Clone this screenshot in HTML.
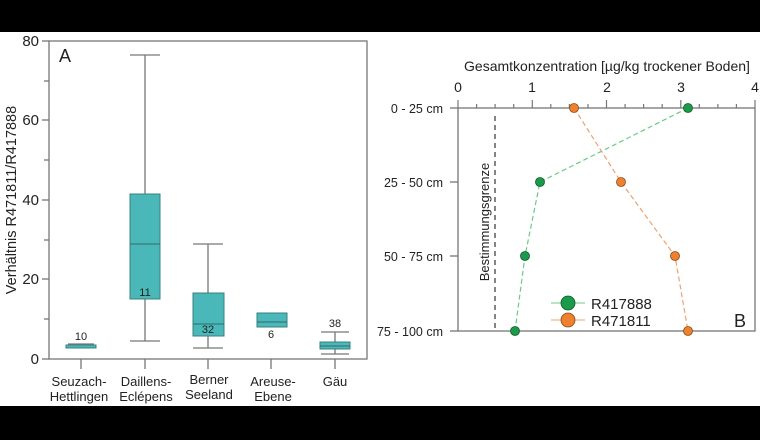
<!DOCTYPE html>
<html><head><meta charset="utf-8"><style>
html,body{margin:0;padding:0;background:#fff}
svg text{font-family:"Liberation Sans",Arial,sans-serif;fill:#222}
</style></head><body>
<svg width="760" height="440" viewBox="0 0 760 440" xmlns="http://www.w3.org/2000/svg">
<rect width="760" height="440" fill="#fff"/>
<rect x="0" y="0" width="760" height="32" fill="#000"/>
<rect x="0" y="406" width="760" height="34" fill="#000"/>
<!-- Panel A -->
<g stroke="#777" stroke-width="1.3" fill="none">
<rect x="49" y="41" width="318" height="318"/>
<line x1="42" y1="41" x2="49" y2="41"/><line x1="44" y1="81" x2="49" y2="81"/>
<line x1="42" y1="120" x2="49" y2="120"/><line x1="44" y1="160" x2="49" y2="160"/>
<line x1="42" y1="200" x2="49" y2="200"/><line x1="44" y1="240" x2="49" y2="240"/>
<line x1="42" y1="279" x2="49" y2="279"/><line x1="44" y1="319" x2="49" y2="319"/>
<line x1="42" y1="359" x2="49" y2="359"/>
<line x1="81" y1="359" x2="81" y2="369"/><line x1="145" y1="359" x2="145" y2="369"/>
<line x1="208" y1="359" x2="208" y2="369"/><line x1="271" y1="359" x2="271" y2="369"/>
<line x1="335" y1="359" x2="335" y2="369"/>
<line x1="145" y1="55" x2="145" y2="194"/><line x1="145" y1="299" x2="145" y2="341"/>
<line x1="130" y1="55" x2="160" y2="55"/><line x1="130" y1="341" x2="160" y2="341"/>
<line x1="208" y1="244" x2="208" y2="293"/><line x1="208" y1="336" x2="208" y2="348"/>
<line x1="193" y1="244" x2="223" y2="244"/><line x1="193" y1="348" x2="223" y2="348"/>
<line x1="335" y1="332" x2="335" y2="354"/>
<line x1="321" y1="332" x2="349" y2="332"/><line x1="321" y1="354" x2="349" y2="354"/>
<line x1="68" y1="344" x2="94" y2="344"/>
</g>
<g fill="#4ab8b8" stroke="#3a7f80" stroke-width="1">
<rect x="66" y="345" width="30" height="3"/>
<rect x="130" y="194" width="30" height="105"/>
<rect x="193" y="293" width="31" height="43"/>
<rect x="257" y="313" width="30" height="14"/>
<rect x="320" y="342" width="30" height="7"/>
</g>
<g stroke="#2d6b6c" stroke-width="1">
<line x1="130" y1="244" x2="160" y2="244"/><line x1="193" y1="324" x2="224" y2="324"/>
<line x1="257" y1="322" x2="287" y2="322"/><line x1="320" y1="346" x2="350" y2="346"/>
</g>
<g font-size="15" text-anchor="end">
<text x="39" y="46">80</text><text x="39" y="125">60</text><text x="39" y="205">40</text>
<text x="39" y="284">20</text><text x="39" y="364">0</text>
</g>
<text x="59" y="62" font-size="18">A</text>
<text transform="translate(16,200) rotate(-90)" font-size="14.5" text-anchor="middle">Verhältnis R471811/R417888</text>
<g font-size="11" text-anchor="middle">
<text x="81" y="340">10</text><text x="145" y="296">11</text><text x="208" y="333">32</text>
<text x="271" y="338">6</text><text x="335" y="327">38</text>
</g>
<g font-size="13" text-anchor="middle">
<text x="79" y="386">Seuzach-</text><text x="79" y="401">Hettlingen</text>
<text x="146" y="386">Daillens-</text><text x="146" y="401">Eclépens</text>
<text x="209" y="384">Berner</text><text x="209" y="399">Seeland</text>
<text x="273" y="386">Areuse-</text><text x="273" y="401">Ebene</text>
<text x="335" y="386">Gäu</text>
</g>
<!-- Panel B -->
<g stroke="#777" stroke-width="1.3" fill="none">
<rect x="458" y="108" width="297" height="223"/>
<line x1="450" y1="108" x2="458" y2="108"/><line x1="450" y1="182" x2="458" y2="182"/>
<line x1="450" y1="256" x2="458" y2="256"/><line x1="450" y1="331" x2="458" y2="331"/>
</g>
<g stroke="#777" stroke-width="1.2">
<line x1="458" y1="100" x2="458" y2="108"/><line x1="476.6" y1="104" x2="476.6" y2="108"/><line x1="495.1" y1="104" x2="495.1" y2="108"/><line x1="513.7" y1="104" x2="513.7" y2="108"/>
<line x1="532.3" y1="100" x2="532.3" y2="108"/><line x1="550.8" y1="104" x2="550.8" y2="108"/><line x1="569.4" y1="104" x2="569.4" y2="108"/><line x1="588" y1="104" x2="588" y2="108"/>
<line x1="606.5" y1="100" x2="606.5" y2="108"/><line x1="625.1" y1="104" x2="625.1" y2="108"/><line x1="643.6" y1="104" x2="643.6" y2="108"/><line x1="662.2" y1="104" x2="662.2" y2="108"/>
<line x1="680.8" y1="100" x2="680.8" y2="108"/><line x1="699.3" y1="104" x2="699.3" y2="108"/><line x1="717.9" y1="104" x2="717.9" y2="108"/><line x1="736.4" y1="104" x2="736.4" y2="108"/>
<line x1="755" y1="100" x2="755" y2="108"/>
</g>
<line x1="495" y1="116" x2="495" y2="331" stroke="#333" stroke-width="1.2" stroke-dasharray="5,4"/>
<text x="607" y="71" font-size="14" text-anchor="middle">Gesamtkonzentration [µg/kg trockener Boden]</text>
<g font-size="14" text-anchor="middle">
<text x="458" y="92">0</text><text x="532" y="92">1</text><text x="607" y="92">2</text><text x="681" y="92">3</text><text x="755" y="92">4</text>
</g>
<g font-size="12.5" text-anchor="end">
<text x="443" y="113">0 - 25 cm</text><text x="443" y="187">25 - 50 cm</text>
<text x="443" y="261">50 - 75 cm</text><text x="443" y="336">75 - 100 cm</text>
</g>
<text transform="translate(489,222) rotate(-90)" font-size="13" text-anchor="middle">Bestimmungsgrenze</text>
<polyline points="688,108 540,182 525,256 515,331" fill="none" stroke="#6cc98a" stroke-width="1.2" stroke-dasharray="5,3"/>
<polyline points="574,108 621,182 675,256 688,331" fill="none" stroke="#f0a070" stroke-width="1.2" stroke-dasharray="5,3"/>
<g fill="#1a9a4a" stroke="#0d5a28" stroke-width="0.8">
<circle cx="688" cy="108" r="4.5"/><circle cx="540" cy="182" r="4.5"/><circle cx="525" cy="256" r="4.5"/><circle cx="515" cy="331" r="4.5"/>
</g>
<g fill="#ee8030" stroke="#8a4a18" stroke-width="0.8">
<circle cx="574" cy="108" r="4.5"/><circle cx="621" cy="182" r="4.5"/><circle cx="675" cy="256" r="4.5"/><circle cx="688" cy="331" r="4.5"/>
</g>
<line x1="551" y1="303" x2="585" y2="303" stroke="#6cc98a" stroke-width="1"/>
<line x1="551" y1="320" x2="585" y2="320" stroke="#f0a070" stroke-width="1"/>
<circle cx="568" cy="303" r="7" fill="#1a9a4a" stroke="#0d5a28" stroke-width="0.8"/>
<circle cx="568" cy="320" r="7" fill="#ee8030" stroke="#8a4a18" stroke-width="0.8"/>
<text x="591" y="309" font-size="15">R417888</text>
<text x="591" y="326" font-size="15">R471811</text>
<text x="734" y="327" font-size="18">B</text>
</svg>
</body></html>
